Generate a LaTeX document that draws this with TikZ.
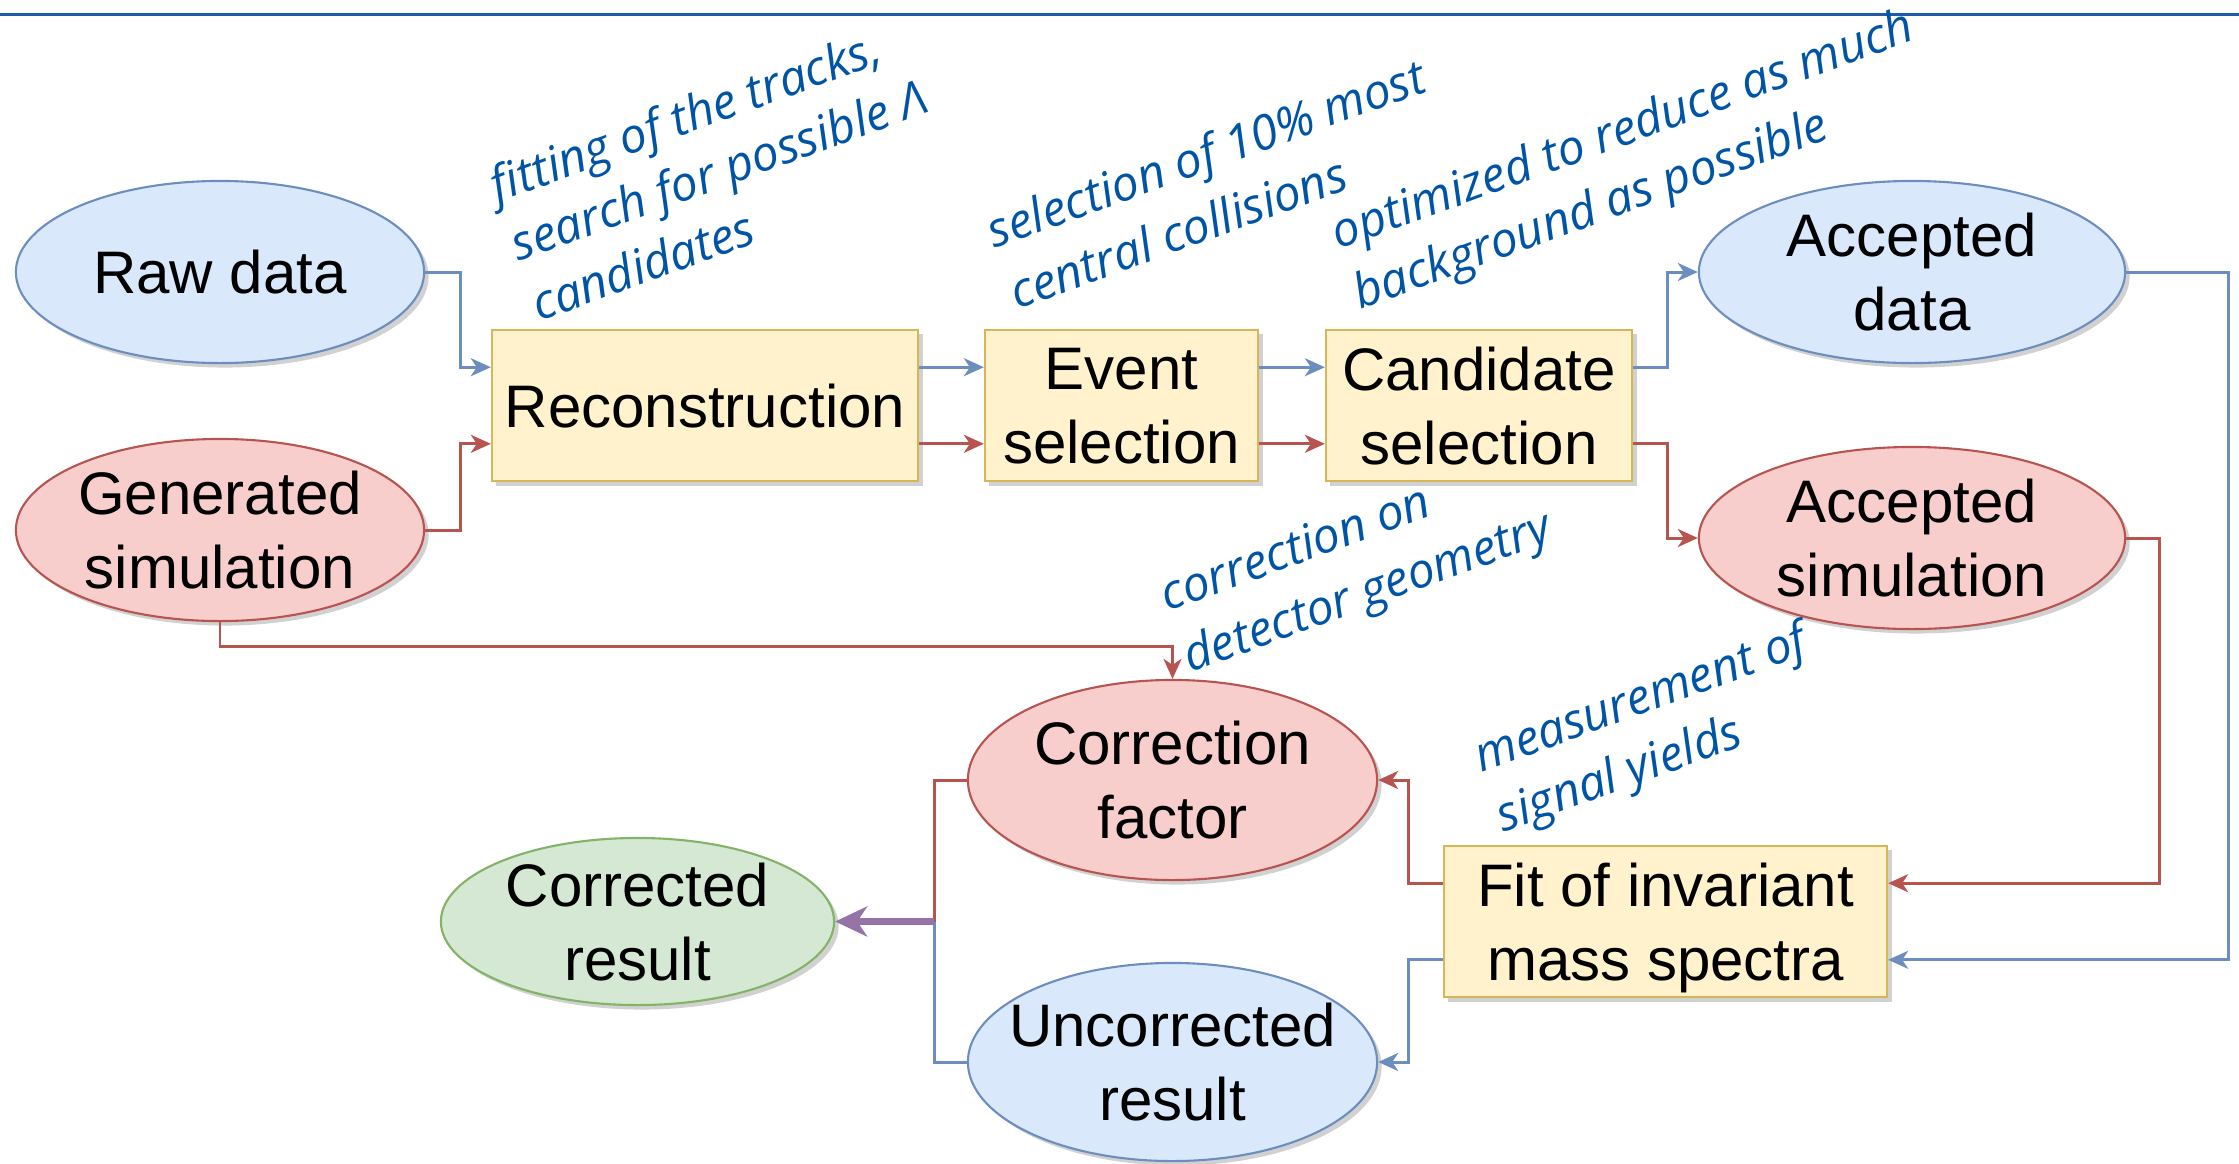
\documentclass[tikz,border=0pt]{standalone}
\usepackage{fontspec}
\setmainfont{Liberation Sans}
\newfontfamily\notefont{Open Sans}
\usetikzlibrary{arrows.meta,shapes.geometric,shadows,calc}

\definecolor{bluefill}{HTML}{DAE8FC}
\definecolor{bluedraw}{HTML}{6C8EBF}
\definecolor{redfill}{HTML}{F8CECC}
\definecolor{reddraw}{HTML}{B85450}
\definecolor{yelfill}{HTML}{FFF2CC}
\definecolor{yeldraw}{HTML}{D6B656}
\definecolor{grnfill}{HTML}{D5E8D4}
\definecolor{grndraw}{HTML}{82B366}
\definecolor{purpdraw}{HTML}{9673A6}
\definecolor{notecol}{RGB}{0,84,166}
\definecolor{rulecol}{RGB}{30,90,170}

\begin{document}
\begin{tikzpicture}[x=0.01cm,y=-0.01cm,
  softshadow/.style={drop shadow={shadow xshift=0.045cm,shadow yshift=-0.045cm,opacity=0.3,fill=black!60}},
  blob/.style={ellipse, line width=0.6pt, inner sep=0pt, softshadow},
  bluenode/.style={blob, fill=bluefill, draw=bluedraw},
  rednode/.style={blob, fill=redfill, draw=reddraw},
  greennode/.style={blob, fill=grnfill, draw=grndraw},
  stepbox/.style={rectangle, draw=yeldraw, fill=yelfill, line width=0.6pt,
    inner sep=0pt, minimum height=1.51cm, softshadow,
    font=\fontsize{17.07pt}{21pt}\selectfont, align=center, text depth=0pt},
  lbl/.style={font=\fontsize{17.07pt}{21pt}\selectfont, align=center, text depth=0pt, inner sep=0pt},
  note/.style={font=\notefont\itshape\fontsize{13.7pt}{18pt}\selectfont, text=notecol,
    rotate=20, anchor=base west, inner sep=0pt},
  tip/.style={-{Stealth[length=0.2cm,width=0.18cm,inset=0.06cm]}},
  bline/.style={draw=bluedraw, line width=0.85pt},
  rline/.style={draw=reddraw, line width=0.85pt},
  bflow/.style={bline, tip},
  rflow/.style={rline, tip},
  pflow/.style={draw=purpdraw, line width=2pt, -{Stealth[length=0.32cm,width=0.3cm,inset=0.1cm]}}
]
\useasboundingbox (0,0) rectangle (2239,1163);

% header rule
\draw[rulecol, line width=0.03cm] (0,14) -- (2239,14);

% inputs
\node[bluenode, minimum width=4.08cm, minimum height=1.82cm] (raw) at (220,272) {};
\node[lbl] (rawt) at (raw) {Raw data};
\node[rednode, minimum width=4.08cm, minimum height=1.82cm] (gen) at (220,530) {};
\node[lbl] (gent) at (gen) {Generated\\simulation};

% processing chain
\node[stepbox, minimum width=4.26cm] (recon) at (705,405.5) {Reconstruction};
\node[stepbox, minimum width=2.73cm] (event) at (1121.5,405.5) {Event\\selection};
\node[stepbox, minimum width=3.06cm] (cand) at (1479,405.5) {Candidate\\selection};

% accepted samples
\node[bluenode, minimum width=4.26cm, minimum height=1.82cm] (accd) at (1912,272) {};
\node[lbl] (accdt) at (accd) {Accepted\\data};
\node[rednode, minimum width=4.26cm, minimum height=1.82cm] (accs) at (1912,538) {};
\node[lbl] (accst) at (accs) {Accepted\\simulation};

% fit and results
\node[stepbox, minimum width=4.43cm] (fit) at (1665.5,921.5) {Fit of invariant\\mass spectra};
\node[rednode, minimum width=4.09cm, minimum height=2.0cm] (corr) at (1172.5,780) {};
\node[lbl] (corrt) at (corr) {Correction\\factor};
\node[bluenode, minimum width=4.09cm, minimum height=1.98cm] (uncor) at (1172.5,1062) {};
\node[lbl] (uncort) at (uncor) {Uncorrected\\result};
\node[greennode, minimum width=3.93cm, minimum height=1.67cm] (done) at (637.5,921.5) {};
\node[lbl] (donet) at (done) {Corrected\\result};

% connectors
\draw[bflow] (raw.east) -- ++(35,0) |- ($(recon.north west)!.25!(recon.south west)$);
\draw[rflow] (gen.east) -- ++(35,0) |- ($(recon.north west)!.75!(recon.south west)$);
\draw[bflow] ($(recon.north east)!.25!(recon.south east)$) -- ($(event.north west)!.25!(event.south west)$);
\draw[rflow] ($(recon.north east)!.75!(recon.south east)$) -- ($(event.north west)!.75!(event.south west)$);
\draw[bflow] ($(event.north east)!.25!(event.south east)$) -- ($(cand.north west)!.25!(cand.south west)$);
\draw[rflow] ($(event.north east)!.75!(event.south east)$) -- ($(cand.north west)!.75!(cand.south west)$);
\draw[bflow] ($(cand.north east)!.25!(cand.south east)$) -- ++(34,0) |- (accd.west);
\draw[rflow] ($(cand.north east)!.75!(cand.south east)$) -- ++(34,0) |- (accs.west);
\draw[rflow] (accs.east) -- ++(33,0) |- ($(fit.north east)!.25!(fit.south east)$);
\draw[bflow] (accd.east) -- ++(102,0) |- ($(fit.north east)!.75!(fit.south east)$);
\draw[rflow] ($(fit.north west)!.25!(fit.south west)$) -- ++(-34,0) |- (corr.east);
\draw[bflow] ($(fit.north west)!.75!(fit.south west)$) -- ++(-34,0) |- (uncor.east);
\draw[rflow] (gen.south) -- ++(0,24) -| (corr.north);
\coordinate (join) at (934,921.5);
\draw[rline] (corr.west) -| (join);
\draw[bline] (uncor.west) -| (join);
\draw[pflow] (join) -- (done.east);

% annotations
\node[note] (n1a) at (497,203) {fitting of the tracks,};
\node[note] (n1b) at (518,262) {search for possible Λ};
\node[note] (n1c) at (539,322) {candidates};
\node[note] (n2a) at (994,249) {selection of 10\% most};
\node[note] (n2b) at (1017,310) {central collisions};
\node[note] (n3a) at (1338,250) {optimized to reduce as much};
\node[note] (n3b) at (1360,310) {background as possible};
\node[note] (n4a) at (1167,612) {correction on};
\node[note] (n4b) at (1190,673) {detector geometry};
\node[note] (n5a) at (1481,773) {measurement of};
\node[note] (n5b) at (1503,833) {signal yields};
\end{tikzpicture}
\end{document}
